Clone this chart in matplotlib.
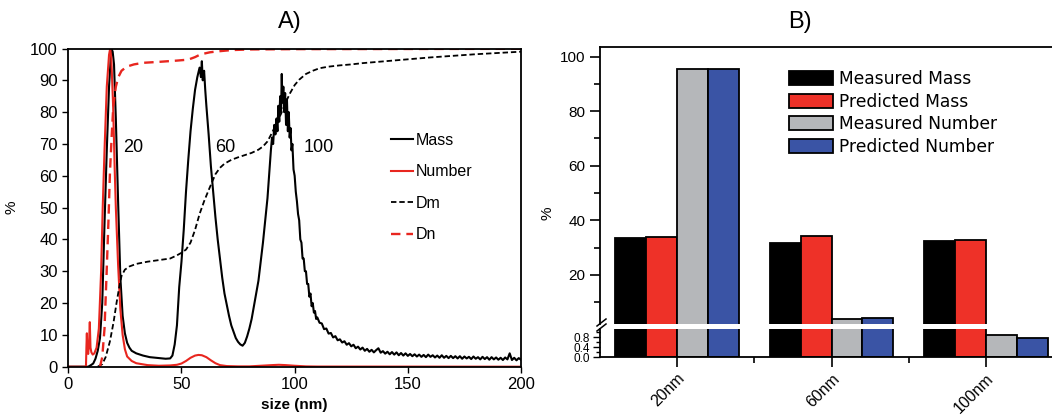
import matplotlib
matplotlib.use('Agg')
import matplotlib.pyplot as plt
from matplotlib.lines import Line2D
import numpy as np

plt.rcParams['font.family'] = ['Liberation Sans', 'DejaVu Sans']

# ---- panel A data ----
mass_x = [0, 8.8, 10, 11, 12, 13, 14, 15, 16, 17, 18, 19, 19.6, 20.2, 21, 22, 23, 24, 25, 26, 27, 28, 30, 33, 36, 40, 43, 45,
          46, 47, 48, 49, 50, 51, 52, 53, 54, 55, 56, 57, 58, 58.6, 59, 59.4, 60, 60.5, 61, 62, 63, 64, 65, 66, 67, 68, 69,
          70, 71, 72, 73, 74, 75, 76, 77, 78, 79, 80, 81, 82, 83, 84, 85, 86, 87, 88, 88.5, 89, 89.5, 90, 90.5, 91, 91.5,
          92, 92.4, 92.8, 93.2, 93.6, 94, 94.3, 94.6, 95, 95.4, 95.8, 96.2, 96.6, 97, 97.4, 97.8, 98.2, 98.6, 99, 99.5,
          100, 100.5, 101, 101.5, 102, 102.5, 103, 103.5, 104, 104.5, 105, 105.5, 106, 106.5, 107, 107.5, 108, 108.5,
          109, 109.5,
          110, 111, 112, 113, 114, 115, 116, 117, 118, 119, 120, 121, 122, 123, 124, 125, 126, 127, 128, 129,
          130, 131, 132, 133, 134, 135, 136, 137, 138, 139, 140, 141, 142, 143, 144, 145, 146, 147, 148, 149,
          150, 151, 152, 153, 154, 155, 156, 157, 158, 159, 160, 161, 162, 163, 164, 165, 166, 167, 168, 169,
          170, 171, 172, 173, 174, 175, 176, 177, 178, 179, 180, 181, 182, 183, 184, 185, 186, 187, 188, 189,
          190, 191, 192, 193, 194, 195, 196, 197, 198, 199, 200]
mass_y = [0, 0, 0.5, 1, 2.5, 5, 9, 20, 45, 68, 88, 100, 99, 95, 78, 52, 28, 16, 10.5, 7.5, 6, 5, 4.2, 3.5, 3.0, 2.7, 2.5, 2.6,
          3.5, 7, 13, 25, 33, 43, 55, 65, 74, 81, 87, 91, 94, 91, 96, 90, 93, 87, 82, 73, 63, 55, 47, 40, 34, 28, 23,
          19.5, 16, 13, 11, 9, 7.8, 7, 6.6, 7.5, 9.5, 12, 15, 19, 23, 27, 33, 39, 46, 53, 58, 63, 68, 72, 70, 76, 73,
          78, 74, 82, 77, 85, 80, 92, 83, 88, 80, 86, 76, 84, 74, 80, 72, 75, 68, 70, 62,
          60, 55, 52, 48, 46, 40, 39, 34, 34, 30, 30, 26, 26, 22, 23, 19, 20, 17, 17.5, 15,
          15.5, 13.8, 13.6, 11.8, 12.0, 10.4, 10.6, 9.2, 9.6, 8.3, 8.6, 7.6, 8.0, 6.9, 7.4, 6.4, 6.9, 5.8, 6.3, 5.4,
          6.0, 5.0, 5.6, 4.7, 5.3, 4.5, 5.2, 5.8, 4.4, 4.9, 4.1, 4.7, 3.9, 4.6, 3.8, 4.5, 3.6, 4.3, 3.5, 4.2,
          3.4, 4.0, 3.3, 3.9, 3.2, 3.8, 3.1, 3.7, 3.0, 3.8, 3.1, 3.6, 2.9, 3.5, 2.8, 3.6, 2.8, 3.4, 2.7, 3.4,
          2.7, 3.3, 2.6, 3.3, 2.5, 3.2, 2.6, 3.1, 2.4, 3.2, 2.5, 3.0, 2.3, 3.1, 2.4, 3.0, 2.2, 3.0, 2.3, 2.9,
          2.2, 2.8, 2.1, 2.9, 2.3, 4.2, 2.1, 2.8, 2.0, 2.7, 2.2]

number_x = [0, 7.8, 8.0, 8.2, 8.4, 8.8, 9.2, 9.5, 9.8, 10.2, 10.8, 11.5, 12.5, 13.5, 14.5, 15.2, 16, 17, 18, 18.5, 19,
            19.8, 20.5, 21, 22, 23, 24, 25, 26, 28, 30, 35, 40, 45, 48, 50, 52, 54, 56, 57.5, 59, 61, 63, 65, 67, 70,
            75, 80, 85, 90, 93, 96, 100, 105, 110, 200]
number_y = [0, 0, 6, 10.5, 5, 4, 8, 14, 6, 4.5, 3.8, 4.2, 6, 12, 30, 50, 68, 88, 98, 100, 97,
            82, 62, 50, 32, 18, 10, 5.5, 3.2, 1.8, 1.1, 0.5, 0.3, 0.4, 0.6, 1.0, 1.8, 2.8, 3.5, 3.7, 3.6, 3.0, 2.0,
            1.1, 0.5, 0.2, 0.1, 0.1, 0.3, 0.5, 0.6, 0.5, 0.3, 0.1, 0.05, 0]

dm_x = [13, 15, 16.5, 18.4, 20, 21.3, 22.5, 23.5, 25, 27, 30, 35, 40, 45, 48, 50, 52, 54, 56, 58, 60, 62, 63.5, 65, 67,
        69, 72, 75, 78, 81, 84, 86, 88, 90, 92, 94, 96, 98, 100, 102, 105, 108, 111, 115, 120, 125, 130, 140, 150,
        160, 170, 180, 190, 200]
dm_y = [0, 0.8, 3, 8, 14, 20, 25, 28.5, 30.5, 31.5, 32.3, 33, 33.5, 34, 35, 35.8, 36.8, 39, 43, 48, 52, 55.5, 58, 60.5,
        62.5, 63.8, 65, 65.8, 66.5, 67.2, 68.2, 69.2, 70.8, 73.5, 76.5, 79.5, 83, 86, 88.5, 90.2, 92, 93, 93.8, 94.3,
        94.7, 95, 95.4, 96, 96.6, 97.2, 97.7, 98.2, 98.6, 99.0]

dn_x = [14, 15, 16, 16.9, 17.7, 18.4, 19.2, 19.9, 21, 22.1, 23.5, 25.8, 29, 33, 40, 48, 53, 56, 58, 60, 62.5, 66, 72,
        80, 100, 200]
dn_y = [0, 3, 12, 29, 45, 61, 73, 82, 88, 91, 93, 94.3, 95, 95.5, 95.8, 96.2, 96.5, 97.3, 98, 98.4, 98.8, 99.1, 99.5,
        99.7, 99.8, 99.9]

peak_labels = ['20', '60', '100']
peak_label_x = [28.5, 69.5, 110.5]

# ---- panel B data ----
sizes = ['20nm', '60nm', '100nm']
measured_mass = [33.5, 31.6, 32.4]
predicted_mass = [33.9, 34.2, 32.6]
measured_number = [95.5, 3.9, 0.9]
predicted_number = [95.5, 4.1, 0.75]
series_names = ['Measured Mass', 'Predicted Mass', 'Measured Number', 'Predicted Number']
series_colors = ['#000000', '#ee3128', '#b5b7ba', '#3a54a5']

W, H = 1052, 415
fig = plt.figure(figsize=(W / 100, H / 100), dpi=100)


def px_box(left, top, right, bottom):
    return [left / W, 1 - bottom / H, (right - left) / W, (bottom - top) / H]


# ================= panel A =================
ax = fig.add_axes(px_box(68.3, 48.5, 521, 366.7))
ax.plot(mass_x, mass_y, color='black', linewidth=1.5, label='Mass')
ax.plot(number_x, number_y, color='#e8261f', linewidth=1.5, label='Number')
ax.plot(dm_x, dm_y, color='black', linewidth=1.3, linestyle=(0, (3, 1.6)), label='Dm')
ax.plot(dn_x, dn_y, color='#e8261f', linewidth=1.7, linestyle=(0, (4, 2.5)), label='Dn')
for lab, lx in zip(peak_labels, peak_label_x):
    ax.text(lx, 69, lab, fontsize=13, ha='center', va='center')

ax.set_xlim(0, 200)
ax.set_ylim(0, 100)
ax.set_xticks([0, 50, 100, 150, 200])
ax.set_yticks(range(0, 101, 10))
ax.tick_params(direction='out', length=4, width=1, labelsize=12)
for s in ax.spines.values():
    s.set_linewidth(1.3)
ax.set_xlabel('size (nm)', fontsize=11, fontweight='bold', labelpad=4)
ax.set_ylabel('%', fontsize=11)
ax.yaxis.set_label_coords((18 - 68.3) / (521 - 68.3), 0.5)
fig.text(290 / W, 1 - 22 / H, 'A)', fontsize=17, ha='center', va='center')
ax.legend(loc='upper left', bbox_to_anchor=(391 / W, 1 - 133 / H), bbox_transform=fig.transFigure,
          frameon=False, fontsize=11.5, handlelength=1.4, handletextpad=0.15, labelspacing=1.03,
          borderpad=0, borderaxespad=0)

# ================= panel B =================
ax_up = fig.add_axes(px_box(600, 47.3, 1063, 324))
ax_lo = fig.add_axes(px_box(600, 328.5, 1063, 357))

x = np.arange(len(sizes))
bw = 0.2
all_series = [measured_mass, predicted_mass, measured_number, predicted_number]
for a in (ax_up, ax_lo):
    for i, vals in enumerate(all_series):
        a.bar(x + (i - 1.5) * bw, vals, bw, color=series_colors[i], edgecolor='black', linewidth=1.3,
              label=series_names[i])
    a.set_xlim(-0.5, 2.5)

ax_up.set_ylim(2, 103.4)
ax_lo.set_ylim(0, 1.14)

ax_up.spines['bottom'].set_visible(False)
ax_up.spines['right'].set_visible(False)
ax_lo.spines['top'].set_visible(False)
ax_lo.spines['right'].set_visible(False)
for a in (ax_up, ax_lo):
    for s in a.spines.values():
        s.set_linewidth(1.3)

ax_up.set_xticks([])
ax_up.set_yticks([20, 40, 60, 80, 100])
ax_up.set_yticks([10, 30, 50, 70, 90], minor=True)
ax_up.tick_params(axis='y', which='major', direction='out', length=7, width=1.2, labelsize=11)
ax_up.tick_params(axis='y', which='minor', direction='out', length=4, width=1.2)

ax_lo.set_yticks([0.0, 0.4, 0.8])
ax_lo.set_yticklabels(['0.0', '0.4', '0.8'])
ax_lo.set_yticks([0.2, 0.6, 1.0], minor=True)
ax_lo.tick_params(axis='y', which='major', direction='out', length=5, width=1, labelsize=8.5, pad=2)
ax_lo.tick_params(axis='y', which='minor', direction='out', length=3, width=1)
ax_lo.set_xticks(x)
ax_lo.set_xticklabels(sizes, rotation=45, ha='right', rotation_mode='anchor', fontsize=11.5)
ax_lo.set_xticks([0.5, 1.5], minor=True)
ax_lo.tick_params(axis='x', which='major', direction='out', length=7, width=1.2, pad=3)
ax_lo.tick_params(axis='x', which='minor', direction='out', length=4, width=1.2)

# axis break marks on the left spine
for dy in (0, 5):
    fig.add_artist(Line2D([597 / W, 606 / W], [1 - (326 + dy) / H, 1 - (319 + dy) / H],
                          color='black', linewidth=1.1))

fig.text(547 / W, 1 - 213 / H, '%', fontsize=11, rotation=90, ha='center', va='center')
fig.text(800 / W, 1 - 22 / H, 'B)', fontsize=17, ha='center', va='center')

handles, labels = ax_up.get_legend_handles_labels()
ax_up.legend(handles, labels, loc='upper left', bbox_to_anchor=(789 / W, 1 - 70 / H),
             bbox_transform=fig.transFigure, frameon=False, prop={'family': 'DejaVu Sans', 'size': 12.3},
             handlelength=2.55, handleheight=0.86, handletextpad=0.4, labelspacing=0.27,
             borderpad=0, borderaxespad=0)

plt.savefig('out.png', dpi=100)
plt.close()
